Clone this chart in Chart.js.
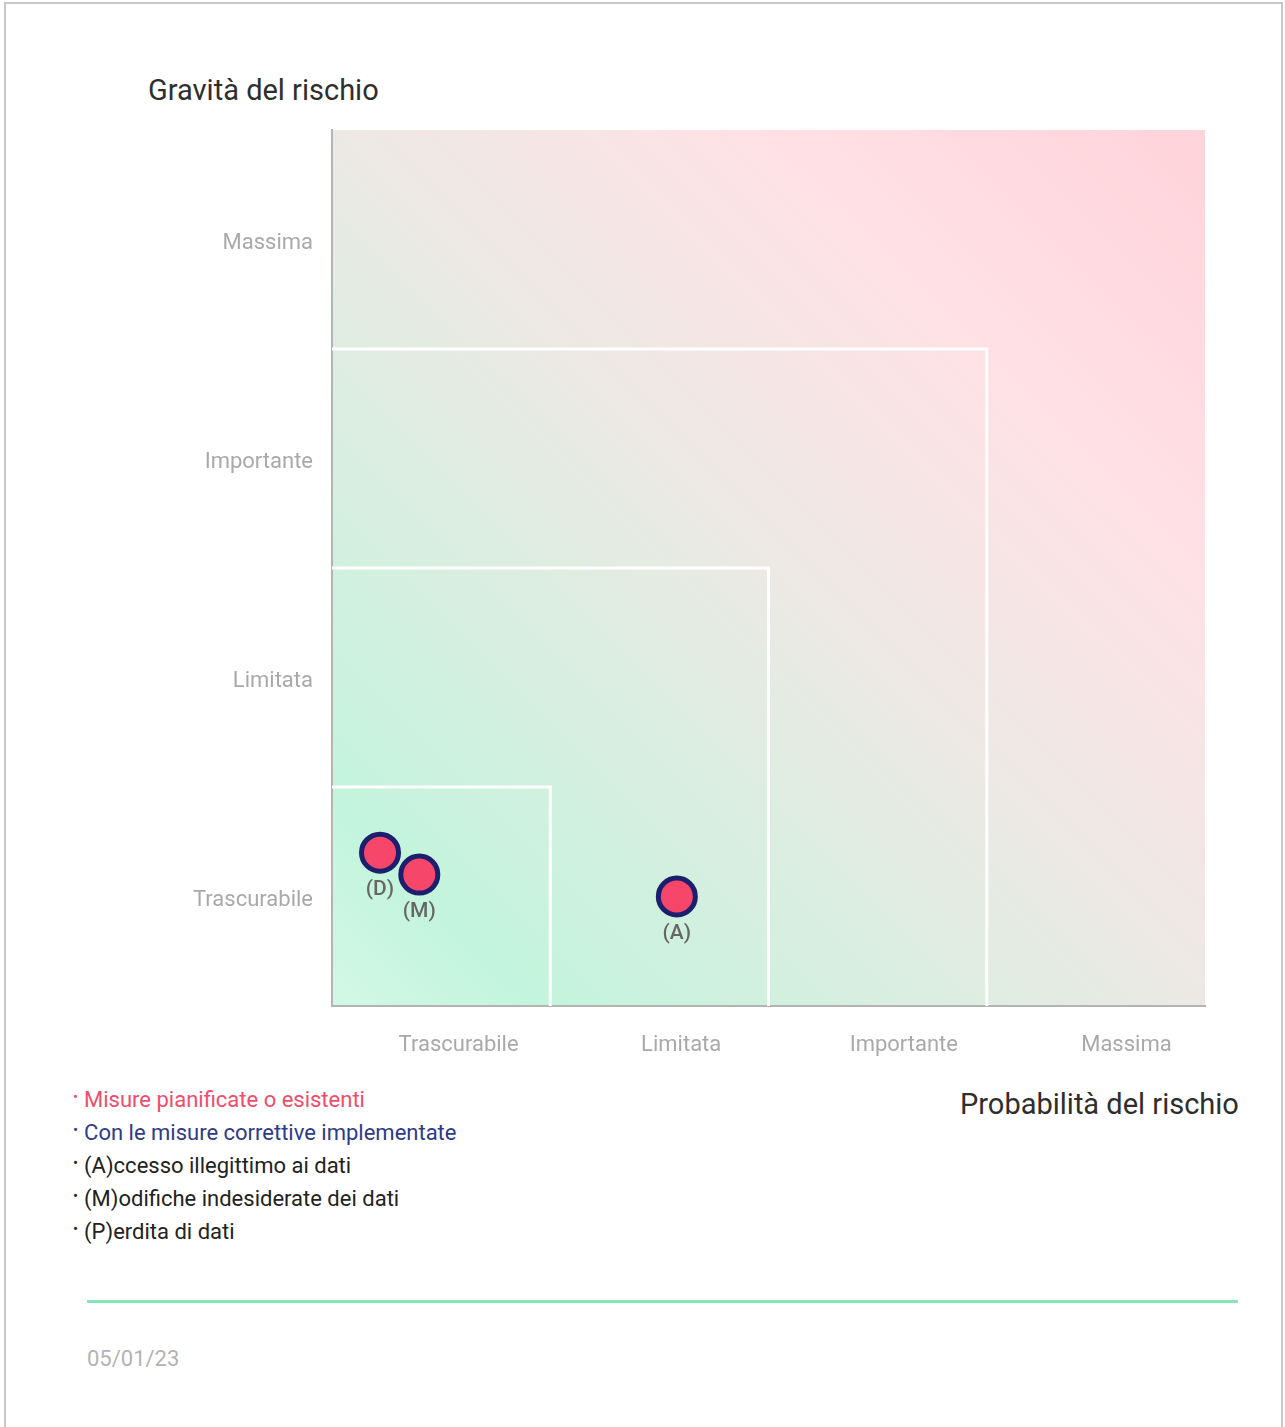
<!DOCTYPE html>
<html>
<head>
<meta charset="utf-8">
<script src="https://cdn.jsdelivr.net/npm/chart.js@4.4.0/dist/chart.umd.min.js"></script>
<style>
  body { margin: 0; background: #fff; font-family: Roboto, "Noto Sans", sans-serif; }
  #page { position: relative; width: 1285px; height: 1427px; overflow: hidden; }
  #frame { position: absolute; left: 4px; top: 2px; width: 1275px; height: 1440px; border: 2px solid #c8c8c8; }
  #wrap { position: absolute; left: 0; top: 0; width: 1285px; height: 1070px; }
  .title { position: absolute; font-size: 29px; color: #2e2e2e; }
  #legend { position: absolute; left: 73px; top: 1083px; font-size: 22px; }
  #legend div { height: 33px; line-height: 33px; white-space: nowrap; }
  #legend div::before { content: "\2022"; font-size: 15px; position: relative; top: -5px; margin-right: 6px; }
  #rule { position: absolute; left: 87px; top: 1300px; width: 1151px; height: 3px; background: #86e4bb; }
  #date { position: absolute; left: 87px; top: 1346px; font-size: 22px; color: #b3b3b3; }
</style>
</head>
<body>
<div id="page">
  <div id="frame"></div>
  <div class="title" style="left:148px; top:73px;">Gravità del rischio</div>
  <div id="wrap"><canvas id="riskChart"></canvas></div>
  <div class="title" style="left:960px; top:1087px;">Probabilità del rischio</div>
  <div id="legend">
    <div style="color:#ee4d6c">Misure pianificate o esistenti</div>
    <div style="color:#2e3a8a">Con le misure correttive implementate</div>
    <div style="color:#222">(A)ccesso illegittimo ai dati</div>
    <div style="color:#222">(M)odifiche indesiderate dei dati</div>
    <div style="color:#222">(P)erdita di dati</div>
  </div>
  <div id="rule"></div>
  <div id="date">05/01/23</div>
</div>
<script>
const levels = ['Trascurabile', 'Limitata', 'Importante', 'Massima'];
// label positions as they sit on the picture (x labels are shifted right a bit)
const xTickPos = [0.58, 1.6, 2.62, 3.64];
const yTickPos = [0.48, 1.48, 2.48, 3.48];
const zoneLimits = [1, 2, 3];

const riskNames = ['(D)', '(M)', '(A)'];
const riskProb = [0.22, 0.40, 1.58];
const riskGrav = [0.70, 0.60, 0.50];

let zoneSets = zoneLimits.map(function (k) {
    return {
        type: 'line',
        data: [{x: k, y: 0}, {x: k, y: k}, {x: 0, y: k}],
        borderColor: '#ffffff',
        borderWidth: 3,
        pointRadius: 0,
        fill: false,
        tension: 0
    };
});

let riskPoints = riskProb.map(function (p, i) {
    return {x: p, y: riskGrav[i]};
});

const bgPlugin = {
    id: 'bgGradient',
    beforeDraw(chart) {
        let a = chart.chartArea;
        let ctx = chart.ctx;
        let g = ctx.createLinearGradient(a.left, a.bottom, a.right, a.top);
        g.addColorStop(0, '#d2f8e6');
        g.addColorStop(0.12, '#c3f4dc');
        g.addColorStop(0.5, '#ece9e4');
        g.addColorStop(0.75, '#ffe1e5');
        g.addColorStop(1, '#ffd3da');
        ctx.save();
        ctx.fillStyle = g;
        ctx.fillRect(a.left, a.top, a.right - a.left, a.bottom - a.top);
        ctx.restore();
    }
};

const labelPlugin = {
    id: 'pointLabels',
    afterDatasetsDraw(chart) {
        let meta = chart.getDatasetMeta(chart.data.datasets.length - 1);
        let ctx = chart.ctx;
        ctx.save();
        ctx.font = '500 21px Roboto';
        ctx.fillStyle = '#666666';
        ctx.textAlign = 'center';
        ctx.textBaseline = 'middle';
        meta.data.forEach(function (el, i) {
            ctx.fillText(riskNames[i], el.x, el.y + 37);
        });
        ctx.restore();
    }
};

function ticksAt(list) {
    return function (scale) {
        scale.ticks = list.map(function (v) { return {value: v}; });
    };
}

let ctx = document.getElementById('riskChart').getContext('2d');
let riskChart = new Chart(ctx, {
    type: 'scatter',
    data: {
        datasets: zoneSets.concat([{
            data: riskPoints,
            backgroundColor: '#f6476b',
            borderColor: '#1c1f6e',
            borderWidth: 5,
            pointRadius: 18.5,
            pointHoverRadius: 18.5
        }])
    },
    options: {
        responsive: true,
        maintainAspectRatio: false,
        animation: false,
        layout: { padding: { top: 130, right: 80, left: 0, bottom: 0 } },
        plugins: { legend: { display: false }, tooltip: { enabled: false } },
        scales: {
            x: {
                type: 'linear',
                min: 0,
                max: 4,
                afterBuildTicks: ticksAt(xTickPos),
                afterFit(scale) { scale.height = 64; },
                grid: { display: false, drawTicks: false },
                border: { color: '#b4b4b4', width: 2 },
                ticks: {
                    padding: 26,
                    color: '#a9a9a9',
                    font: { family: 'Roboto', size: 22 },
                    callback: function (v) { return levels[Math.floor(v)]; }
                }
            },
            y: {
                type: 'linear',
                min: 0,
                max: 4,
                afterBuildTicks: ticksAt(yTickPos),
                afterFit(scale) { scale.width = 332; },
                grid: { display: false, drawTicks: false },
                border: { color: '#b4b4b4', width: 2 },
                ticks: {
                    padding: 19,
                    color: '#a9a9a9',
                    font: { family: 'Roboto', size: 22 },
                    callback: function (v) { return levels[Math.floor(v)]; }
                }
            }
        }
    },
    plugins: [bgPlugin, labelPlugin]
});
</script>
</body>
</html>
